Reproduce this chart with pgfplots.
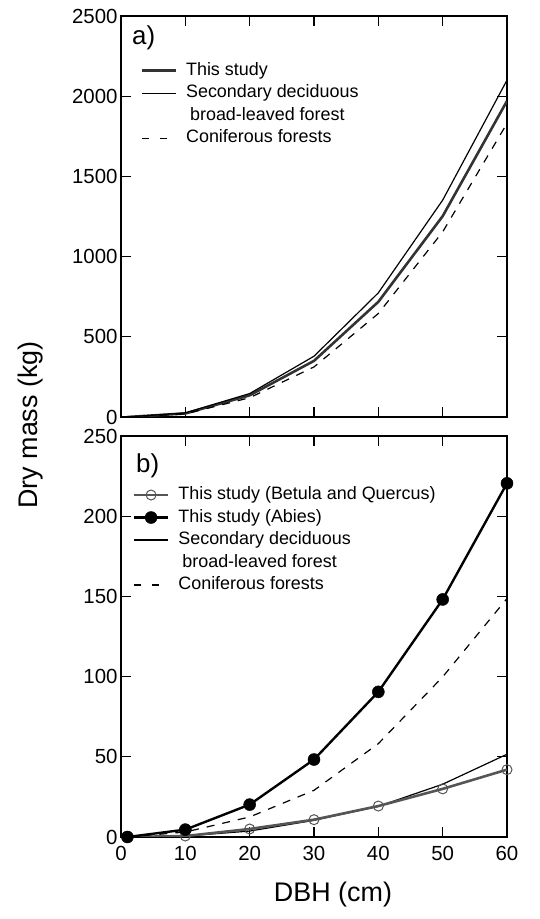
\documentclass[border=0pt]{standalone}
\usepackage{fontspec}
\setmainfont{Liberation Sans}
\usepackage{pgfplots}
\pgfplotsset{compat=1.18}

\definecolor{darkline}{HTML}{333333}
\definecolor{grayline}{HTML}{555555}

\pgfplotsset{
  panel/.style={
    scale only axis, width=386bp, height=401bp,
    xmin=0, xmax=60, xtick={0,10,...,60},
    axis line style={line width=1.4pt},
    major tick length=10bp,
    tick style={line width=1.2pt, black},
    tick align=inside,
    /pgf/number format/assume math mode=true,
    /pgf/number format/1000 sep={},
    ticklabel style={font=\fontsize{20.5}{22}\selectfont},
    xticklabel style={yshift=-6bp},
    legend style={draw=none, fill=none, inner sep=0pt,
      font=\fontsize{18}{20}\selectfont,
      anchor=north west, legend cell align=left,
      nodes={inner sep=1bp, text height=13bp, text depth=4bp},
      /tikz/every odd column/.append style={column sep=8bp}},
    legend image code/.code={\draw[mark repeat=2,mark phase=2,##1]
      plot coordinates {(0bp,0bp) (17bp,0bp) (34bp,0bp)};},
  },
}

\begin{document}
\begin{tikzpicture}
\useasboundingbox (0bp,0bp) rectangle (540bp,919bp);

% panel a
\begin{axis}[panel, at={(121bp,502bp)}, anchor=south west,
  ymin=0, ymax=2500, ytick={0,500,...,2500}, xticklabels={},
  legend style={at={(axis description cs:0.05,0.888)}, row sep=3.6bp}]
\addplot[darkline, line width=2.6pt] coordinates {
  (1,0) (10,22) (20,135) (30,350) (40,718) (50,1252) (60,1970)};
\addlegendentry{This study}
\addplot[black, line width=1.2pt] coordinates {
  (1,0) (10,26) (20,146) (30,379) (40,774) (50,1352) (60,2100)};
\addlegendentry{Secondary deciduous}
\addlegendimage{empty legend}
\addlegendentry{\hspace{4bp}broad-leaved forest}
\addplot[black, line width=1.2pt, dash pattern=on 8bp off 8bp, forget plot] coordinates {
  (1,0) (10,19) (20,120) (30,312) (40,645) (50,1154) (60,1830)};
\addlegendimage{black, line width=1.2pt, dash pattern=on 7bp off 11bp}
\addlegendentry{Coniferous forests}
\node[font=\fontsize{26}{28}\selectfont, anchor=west] at (axis description cs:0.02,0.945) {a)};
\end{axis}

% panel b
\begin{axis}[panel, at={(121bp,82bp)}, anchor=south west,
  ymin=0, ymax=250, ytick={0,50,...,250},
  legend style={at={(axis description cs:0.03,0.877)}, row sep=3.5bp}]
\addplot[black, line width=1.2pt, forget plot] coordinates {
  (1,0) (10,0.6) (20,3.7) (30,10.4) (40,19.1) (50,32.9) (60,51.6)};
\addplot[grayline, line width=2.6pt, mark=o, mark size=5bp,
  mark options={line width=1pt}] coordinates {
  (1,0) (10,0.6) (20,5.0) (30,10.8) (40,19.3) (50,30.0) (60,42.0)};
\addlegendentry{This study (Betula and Quercus)}
\addplot[black, line width=2.4pt, mark=*, mark size=6bp,
  mark options={line width=0.5pt}] coordinates {
  (1,0) (10,4.6) (20,20.2) (30,48.3) (40,90.5) (50,148.1) (60,220.5)};
\addlegendentry{This study (Abies)}
\addlegendimage{black, line width=1.2pt}
\addlegendentry{Secondary deciduous}
\addlegendimage{empty legend}
\addlegendentry{\hspace{4bp}broad-leaved forest}
\addplot[black, line width=1.2pt, dash pattern=on 8bp off 8bp, forget plot] coordinates {
  (1,0) (10,3.1) (20,12.5) (30,29.1) (40,58.2) (50,99.8) (60,148.7)};
\addlegendimage{black, line width=1.2pt, dash pattern=on 7bp off 11bp}
\addlegendentry{Coniferous forests}
\node[font=\fontsize{26}{28}\selectfont, anchor=west] at (axis description cs:0.03,0.925) {b)};
\end{axis}

\node[rotate=90, font=\fontsize{27}{30}\selectfont] at (31bp,494bp) {Dry mass (kg)};
\node[font=\fontsize{27}{30}\selectfont] at (333bp,24bp) {DBH (cm)};
\end{tikzpicture}
\end{document}
